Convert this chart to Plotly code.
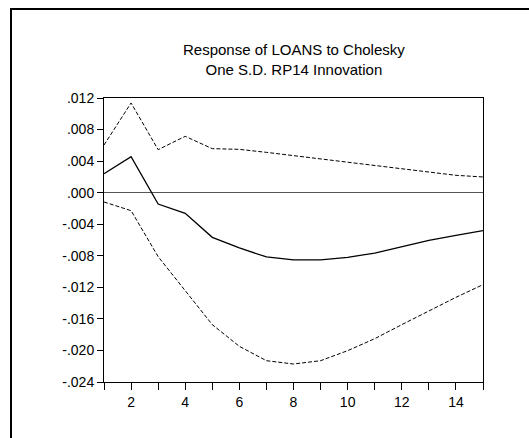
import plotly.graph_objects as go

# Impulse response of LOANS to a one S.D. RP14 shock, with +/- 2 S.E. bands
periods = list(range(1, 16))
response = [0.00241, 0.00456, -0.00144, -0.00262, -0.00566, -0.00701, -0.00815,
            -0.00853, -0.00853, -0.00820, -0.00765, -0.00684, -0.00604, -0.00540, -0.00482]
upper_band = [0.00604, 0.01137, 0.00545, 0.00714, 0.00558, 0.00549, 0.00511,
              0.00469, 0.00431, 0.00389, 0.00342, 0.00296, 0.00258, 0.00220, 0.00199]
lower_band = [-0.00118, -0.00228, -0.00811, -0.01242, -0.01673, -0.01948, -0.02130,
              -0.02172, -0.02130, -0.02003, -0.01851, -0.01673, -0.01500, -0.01327, -0.01166]

y_ticks = [0.012, 0.008, 0.004, 0.0, -0.004, -0.008, -0.012, -0.016, -0.020, -0.024]
y_labels = [".012", ".008", ".004", ".000", "-.004", "-.008", "-.012", "-.016", "-.020", "-.024"]
x_labels = [str(p) if p % 2 == 0 else "" for p in periods]

W, H = 529, 438
L, R, T, B = 104, 483, 98, 382  # plot area edges in pixels

fig = go.Figure()
fig.add_trace(go.Scatter(x=periods, y=upper_band, mode="lines",
                         line=dict(color="black", width=1, dash="4px,2px")))
fig.add_trace(go.Scatter(x=periods, y=lower_band, mode="lines",
                         line=dict(color="black", width=1, dash="4px,2px")))
fig.add_trace(go.Scatter(x=periods, y=response, mode="lines",
                         line=dict(color="black", width=1.3)))

def px_to_paper_x(px):
    return (px - L) / (R - L)

def px_to_paper_y(py):
    return (B - py) / (B - T)

# Outer frame (left and top edges)
fig.add_shape(type="line", xref="paper", yref="paper",
              x0=px_to_paper_x(11), x1=px_to_paper_x(11),
              y0=px_to_paper_y(9), y1=px_to_paper_y(445),
              line=dict(color="black", width=2))
fig.add_shape(type="line", xref="paper", yref="paper",
              x0=px_to_paper_x(10), x1=px_to_paper_x(540),
              y0=px_to_paper_y(9), y1=px_to_paper_y(9),
              line=dict(color="black", width=2))

fig.add_annotation(text="Response of LOANS to Cholesky<br>One S.D. RP14 Innovation",
                   xref="paper", yref="paper", x=0.5, y=px_to_paper_y(60),
                   xanchor="center", yanchor="middle", showarrow=False,
                   font=dict(size=15, color="black", family="Liberation Sans"))

fig.update_layout(
    width=W, height=H,
    margin=dict(l=L, r=W - R, t=T, b=H - B, pad=0),
    paper_bgcolor="white", plot_bgcolor="white",
    showlegend=False,
    font=dict(family="Liberation Sans", size=14, color="black"),
)
fig.update_xaxes(range=[1, 15], tickvals=periods, ticktext=x_labels,
                 showgrid=False, zeroline=False, showline=True, mirror=True,
                 linecolor="black", linewidth=1, ticks="outside", ticklen=7,
                 tickwidth=1, tickcolor="black")
fig.update_yaxes(range=[-0.024, 0.012], tickvals=y_ticks, ticktext=y_labels,
                 showgrid=False, zeroline=True, zerolinecolor="#555555", zerolinewidth=1,
                 showline=True, mirror=True, linecolor="black", linewidth=1,
                 ticks="outside", ticklen=6, tickwidth=1, tickcolor="black")

fig.write_html("out.html")
